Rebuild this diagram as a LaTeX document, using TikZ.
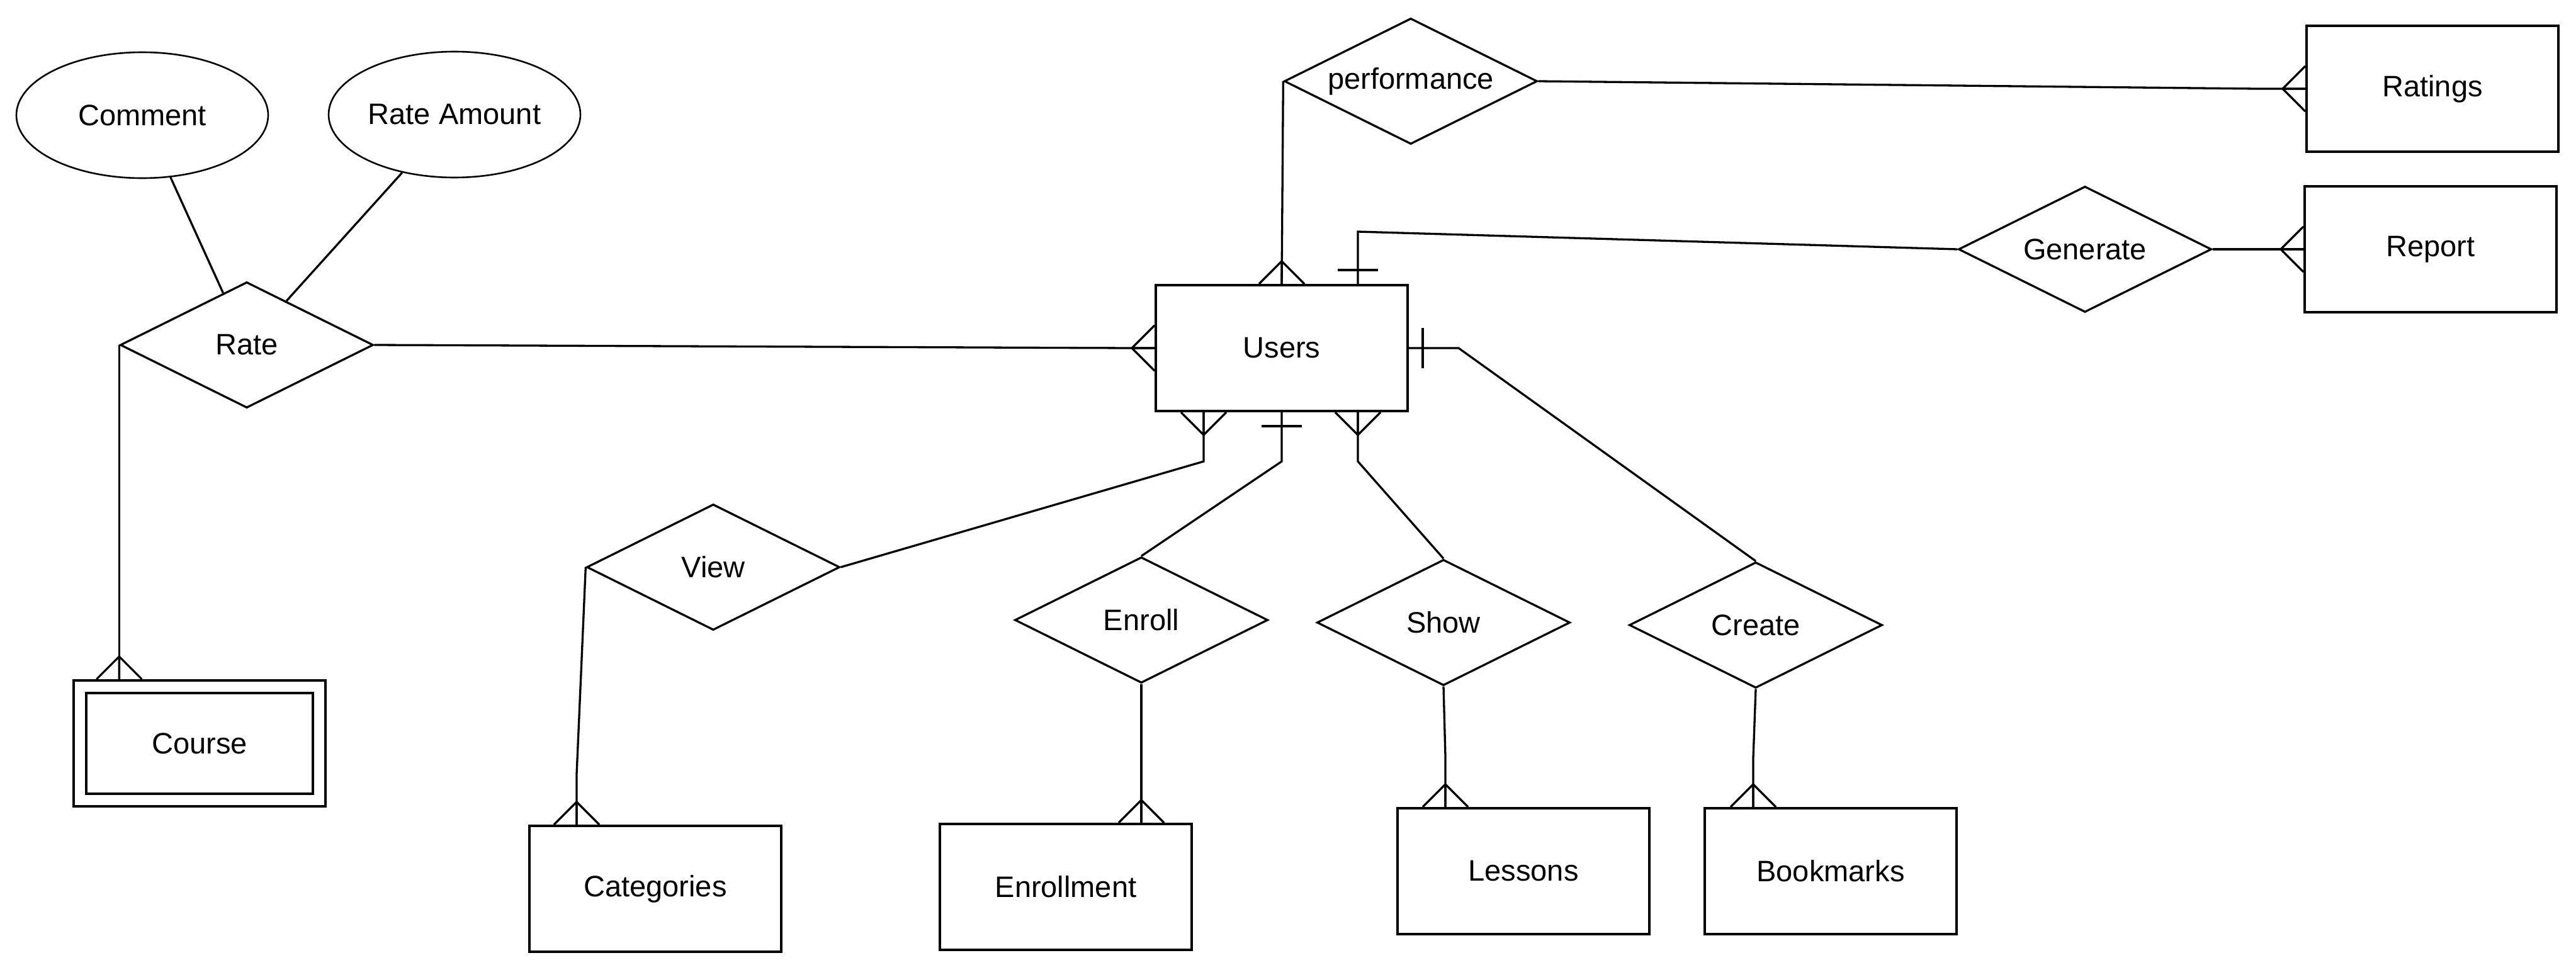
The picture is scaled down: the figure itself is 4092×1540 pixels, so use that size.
\documentclass[tikz,border=0pt]{standalone}
\usepackage{fontspec}
\setmainfont{Liberation Sans}
\usetikzlibrary{shapes.geometric,calc}
\tikzset{
  lbl/.style={font=\fontsize{47}{56}\selectfont},
  entity/.style={lbl,draw,rectangle,line width=4pt,minimum width=400pt,minimum height=200pt,inner sep=0pt},
  rel/.style={lbl,draw,diamond,line width=3.3pt,minimum width=402pt,minimum height=200pt,inner sep=0pt},
  attr/.style={lbl,draw,ellipse,line width=2.6pt,minimum width=400pt,minimum height=200pt,inner sep=0pt},
  conn/.style={line width=3.3pt},
}
\newcommand\crowfoot[2]{\begin{scope}[shift={(#1)},rotate=#2]\draw[conn] (0,36) -- (-36,0) -- (0,-36) (-36,0) -- (0,0);\end{scope}}
\newcommand\onebar[2]{\begin{scope}[shift={(#1)},rotate=#2]\draw[conn] (-22,-32) -- (-22,32);\end{scope}}
\newcommand\rtext[1]{\makebox[0pt]{#1}}
\begin{document}
\begin{tikzpicture}[x=1pt,y=-1pt]
\useasboundingbox (0,0) rectangle (4092,1540);
% attributes
\node[attr] (comment) at (226,183) {Comment};
\node[attr] (rateamt) at (722,182) {Rate Amount};
% relationships
\node[rel] (rate) at (392,548) {\rtext{Rate}};
\node[rel] (perf) at (2241,129) {\rtext{performance}};
\node[rel] (gen) at (3312,396) {\rtext{Generate}};
\node[rel] (view) at (1133,901) {\rtext{View}};
\node[rel] (enroll) at (1813,985) {\rtext{Enroll}};
\node[rel] (show) at (2293,989) {\rtext{Show}};
\node[rel] (create) at (2789,993) {\rtext{Create}};
% entities
\node[entity] (users) at (2036,553) {Users};
\node[entity] (ratings) at (3864,141) {Ratings};
\node[entity] (report) at (3861,396) {Report};
\node[entity] (course) at (317,1181) {};
\node[entity,minimum width=360pt,minimum height=160pt] (coursein) at (course) {Course};
\node[entity] (cat) at (1041,1412) {Categories};
\node[entity] (enrollment) at (1693,1409) {Enrollment};
\node[entity] (lessons) at (2420,1384) {Lessons};
\node[entity] (bookmarks) at (2908,1384) {Bookmarks};
% anchor points
\coordinate (ub1) at ($(users.south)+(-124,0)$);
\coordinate (ub3) at ($(users.south)+(121,0)$);
\coordinate (ut2) at ($(users.north)+(121,0)$);
\coordinate (courseTop) at (rate.west |- course.north);
\coordinate (catTop) at ($(cat.north)+(-125,0)$);
\coordinate (enTop) at ($(enrollment.north)+(120,0)$);
\coordinate (lesTop) at ($(lessons.north)+(-124,0)$);
\coordinate (bmTop) at ($(bookmarks.north)+(-123,0)$);
% connectors
\draw[conn] (comment) -- (rate);
\draw[conn] (rateamt) -- (rate);
\draw[conn] (rate.east) -- ($(users.west)+(-36,0)$) -- (users.west);
\draw[conn] (rate.west) -- (courseTop);
\draw[conn] (view.west) -- ($(catTop)+(0,-80)$) -- (catTop);
\draw[conn] (ub1) -- ++(0,78) -- (view.east);
\draw[conn] (users.south) -- ++(0,78) -- (enroll.north);
\draw[conn] (ub3) -- ++(0,78) -- (show.north);
\draw[conn] (users.east) -- ++(79,0) -- (create.north);
\draw[conn] (enroll.south) -- ($(enTop)+(0,-80)$) -- (enTop);
\draw[conn] (show.south) -- ($(lesTop)+(0,-80)$) -- (lesTop);
\draw[conn] (create.south) -- ($(bmTop)+(0,-78)$) -- (bmTop);
\draw[conn] (perf.west) -- (users.north);
\draw[conn] (perf.east) -- ($(ratings.west)+(-77,0)$) -- (ratings.west);
\draw[conn] (ut2) -- ++(0,-83) -- (gen.west);
\draw[conn] (gen.east) -- ($(report.west)+(-84,0)$) -- (report.west);
% cardinality marks
\crowfoot{users.west}{0}
\crowfoot{users.north}{-90}
\onebar{ut2}{-90}
\onebar{users.east}{180}
\crowfoot{ub1}{90}
\onebar{users.south}{90}
\crowfoot{ub3}{90}
\crowfoot{ratings.west}{0}
\crowfoot{report.west}{0}
\crowfoot{courseTop}{-90}
\crowfoot{catTop}{-90}
\crowfoot{enTop}{-90}
\crowfoot{lesTop}{-90}
\crowfoot{bmTop}{-90}
\end{tikzpicture}
\end{document}
